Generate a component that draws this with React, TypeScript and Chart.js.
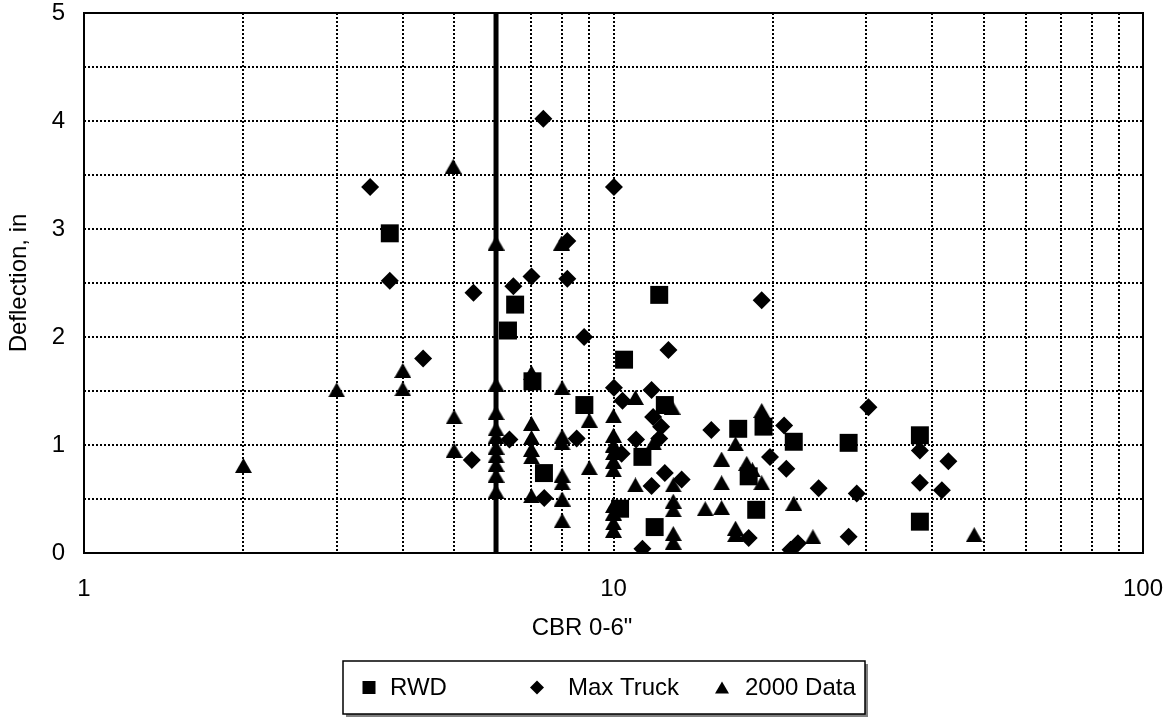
import { useEffect, useRef } from 'react';
import { Chart, registerables } from 'chart.js';

Chart.register(...registerables);

// RWD deflection measurements
const rwdCbr = [3.78, 6.32, 6.52, 12.2, 10.47, 7.03, 8.81, 7.39, 10.29, 11.96, 12.5, 11.34, 17.2, 19.2, 21.9, 27.8, 18.0, 18.6, 37.9, 37.9];
const rwdDeflection = [2.96, 2.06, 2.3, 2.39, 1.79, 1.59, 1.37, 0.74, 0.41, 0.24, 1.37, 0.89, 1.15, 1.17, 1.03, 1.02, 0.71, 0.4, 1.09, 0.29];

// Maximum truck rut deflections
const truckCbr = [3.47, 3.78, 5.44, 4.37, 7.37, 10.02, 8.18, 7.0, 6.47, 8.18, 8.8, 12.7, 19.05, 21.0, 15.3, 19.75, 21.2, 24.4, 28.8, 27.8, 21.6, 22.3, 18.0, 13.45, 12.5, 30.3, 37.9, 42.9, 37.9, 41.7, 10.02, 10.4, 11.8, 11.88, 12.3, 12.2, 11.03, 6.36, 8.52, 10.36, 7.4, 11.8, 11.34, 5.4];
const truckDeflection = [3.39, 2.52, 2.41, 1.8, 4.02, 3.39, 2.89, 2.56, 2.47, 2.54, 2.0, 1.88, 2.34, 1.18, 1.14, 0.89, 0.78, 0.6, 0.55, 0.15, 0.03, 0.09, 0.14, 0.68, 0.74, 1.35, 0.95, 0.85, 0.65, 0.58, 1.53, 1.41, 1.51, 1.26, 1.17, 1.06, 1.05, 1.05, 1.06, 0.92, 0.51, 0.62, 0.04, 0.86];

// 2000 field data
const data2000Cbr = [2.0, 3.0, 4.0, 4.0, 4.98, 5.0, 5.0, 6.0, 6.0, 6.0, 6.0, 6.0, 6.0, 6.0, 6.0, 6.0, 6.0, 7.98, 7.0, 7.0, 7.0, 7.0, 7.0, 7.0, 8.0, 8.0, 8.0, 8.0, 8.0, 8.0, 8.0, 9.0, 9.0, 10.0, 10.0, 10.0, 10.0, 10.0, 10.0, 10.0, 10.0, 10.0, 10.0, 11.0, 11.0, 11.9, 12.9, 12.97, 12.97, 12.97, 12.97, 12.97, 14.9, 16.0, 16.0, 16.0, 17.0, 17.0, 17.0, 17.85, 18.3, 19.05, 19.05, 21.9, 23.8, 48.0];
const data2000Deflection = [0.81, 1.51, 1.52, 1.69, 3.58, 1.26, 0.95, 2.87, 1.56, 1.3, 1.15, 1.08, 0.98, 0.9, 0.82, 0.72, 0.57, 2.87, 1.67, 1.2, 1.07, 0.96, 0.89, 0.53, 1.53, 1.08, 1.02, 0.72, 0.65, 0.5, 0.3, 1.23, 0.79, 1.27, 1.09, 1.0, 0.93, 0.85, 0.77, 0.44, 0.37, 0.28, 0.21, 1.44, 0.63, 1.02, 1.35, 0.63, 0.48, 0.4, 0.18, 0.1, 0.41, 0.42, 0.87, 0.65, 1.01, 0.23, 0.17, 0.83, 0.77, 0.65, 1.32, 0.46, 0.15, 0.17];

// CBR limit line and axis ticks
const cbrLimit = 6;
const deflectionRange = [0, 5];
const xTickValues = [1, 2, 3, 4, 5, 6, 7, 8, 9, 10, 20, 30, 40, 50, 60, 70, 80, 90, 100];
const xLabelValues = [1, 10, 100];
const seriesLabels = ['RWD', 'Max Truck', '2000 Data'];
const xAxisTitle = 'CBR 0-6"';
const yAxisTitle = 'Deflection, in';

const FONT = '"Liberation Sans", Arial, Helvetica, sans-serif';
const FONT_SIZE = 24;
const LEGEND_FONT_SIZE = 24;

function toPoints(xs: number[], ys: number[]) {
  return xs.map((x, i) => ({ x, y: ys[i] }));
}

function makeTriangle(w: number, h: number) {
  const c = document.createElement('canvas');
  c.width = w;
  c.height = h;
  const g = c.getContext('2d')!;
  g.fillStyle = '#000';
  g.beginPath();
  g.moveTo(w / 2, 0);
  g.lineTo(w, h);
  g.lineTo(0, h);
  g.closePath();
  g.fill();
  return c;
}

// Solid frame around the plotting area
const framePlugin = {
  id: 'plotFrame',
  beforeDatasetsDraw(chart: any) {
    const { ctx, chartArea } = chart;
    const { left, top, right, bottom } = chartArea;
    ctx.save();
    ctx.strokeStyle = '#000';
    ctx.lineWidth = 2;
    ctx.setLineDash([]);
    ctx.strokeRect(left, top, right - left, bottom - top);
    ctx.restore();
  },
};

// Horizontal axis title, centred on the whole canvas width
const xTitlePlugin = {
  id: 'xTitle',
  afterDraw(chart: any) {
    const { ctx } = chart;
    const xs = chart.scales.x;
    ctx.save();
    ctx.fillStyle = '#000';
    ctx.font = `${FONT_SIZE}px ${FONT}`;
    ctx.textAlign = 'center';
    ctx.textBaseline = 'middle';
    ctx.fillText(xAxisTitle, chart.width / 2, xs.bottom - 15);
    ctx.restore();
  },
};

// Boxed legend with drop shadow below the axis title
const legendPlugin = {
  id: 'boxLegend',
  afterDraw(chart: any) {
    const { ctx } = chart;
    const box = { left: 343, top: 661, right: 865, bottom: 714 };
    const cy = (box.top + box.bottom) / 2;
    ctx.save();
    ctx.fillStyle = '#808080';
    ctx.fillRect(box.left + 3, box.bottom, box.right - box.left, 3);
    ctx.fillRect(box.right, box.top + 3, 3, box.bottom - box.top);
    ctx.fillStyle = '#fff';
    ctx.fillRect(box.left, box.top, box.right - box.left, box.bottom - box.top);
    ctx.strokeStyle = '#000';
    ctx.lineWidth = 1.5;
    ctx.strokeRect(box.left, box.top, box.right - box.left, box.bottom - box.top);

    const markerX = [369, 537, 722];
    const textX = [390, 568, 745];
    ctx.fillStyle = '#000';
    // square
    ctx.fillRect(markerX[0] - 6.5, cy - 6.5, 13, 13);
    // diamond
    ctx.beginPath();
    ctx.moveTo(markerX[1], cy - 7);
    ctx.lineTo(markerX[1] + 7, cy);
    ctx.lineTo(markerX[1], cy + 7);
    ctx.lineTo(markerX[1] - 7, cy);
    ctx.closePath();
    ctx.fill();
    // triangle
    ctx.beginPath();
    ctx.moveTo(markerX[2], cy - 6);
    ctx.lineTo(markerX[2] + 7, cy + 6);
    ctx.lineTo(markerX[2] - 7, cy + 6);
    ctx.closePath();
    ctx.fill();

    ctx.font = `${LEGEND_FONT_SIZE}px ${FONT}`;
    ctx.textBaseline = 'middle';
    ctx.textAlign = 'left';
    seriesLabels.forEach((label, i) => ctx.fillText(label, textX[i], cy + 1));
    ctx.restore();
  },
};

export default function App() {
  const canvasRef = useRef<HTMLCanvasElement | null>(null);

  useEffect(() => {
    if (!canvasRef.current) return;
    const triangle = makeTriangle(17, 15);
    const gridStyle = { color: '#000', lineWidth: 2, drawTicks: false };
    const borderStyle = { display: false, dash: [2, 2] };

    const chart = new Chart(canvasRef.current, {
      type: 'scatter',
      data: {
        datasets: [
          {
            type: 'line',
            label: 'CBR limit',
            data: [
              { x: cbrLimit, y: deflectionRange[0] },
              { x: cbrLimit, y: deflectionRange[1] },
            ],
            borderColor: '#000',
            borderWidth: 5,
            pointRadius: 0,
            order: 4,
          } as any,
          {
            label: seriesLabels[0],
            data: toPoints(rwdCbr, rwdDeflection),
            pointStyle: 'rect',
            pointRadius: 12.7,
            backgroundColor: '#000',
            borderWidth: 0,
            order: 3,
          },
          {
            label: seriesLabels[1],
            data: toPoints(truckCbr, truckDeflection),
            pointStyle: 'rectRot',
            pointRadius: 9,
            backgroundColor: '#000',
            borderWidth: 0,
            order: 2,
          },
          {
            label: seriesLabels[2],
            data: toPoints(data2000Cbr, data2000Deflection),
            pointStyle: triangle as any,
            pointRadius: 9,
            backgroundColor: '#000',
            borderWidth: 0,
            order: 1,
          },
        ],
      },
      options: {
        animation: false,
        responsive: false,
        devicePixelRatio: 1,
        layout: { padding: { left: 0, right: 21, top: 13, bottom: 76 } },
        plugins: {
          legend: { display: false },
          tooltip: { enabled: false },
        },
        scales: {
          x: {
            type: 'logarithmic',
            min: 1,
            max: 100,
            afterFit: (s: any) => {
              s.height = 90;
              s.paddingLeft = 0;
              s.paddingRight = 0;
            },
            afterBuildTicks: (s: any) => {
              s.ticks = xTickValues.map((v) => ({ value: v }));
            },
            ticks: {
              autoSkip: false,
              maxRotation: 0,
              padding: 22,
              color: '#000',
              font: { family: FONT, size: FONT_SIZE },
              callback: (v: any) => (xLabelValues.includes(Number(v)) ? String(v) : ''),
            },
            grid: gridStyle,
            border: borderStyle,
            title: { display: false },
          } as any,
          y: {
            min: deflectionRange[0],
            max: deflectionRange[1],
            afterFit: (s: any) => {
              s.width = 84;
              s.paddingTop = 0;
              s.paddingBottom = 0;
            },
            ticks: {
              stepSize: 0.5,
              padding: 19,
              color: '#000',
              font: { family: FONT, size: FONT_SIZE, lineHeight: 1 },
              callback: (v: any) => (Number.isInteger(Number(v)) ? String(v) : ''),
            },
            grid: gridStyle,
            border: borderStyle,
            title: {
              display: true,
              text: yAxisTitle,
              color: '#000',
              font: { family: FONT, size: FONT_SIZE },
              padding: { top: 5, bottom: 0 },
            },
          } as any,
        },
      },
      plugins: [framePlugin, xTitlePlugin, legendPlugin],
    });

    return () => chart.destroy();
  }, []);

  return (
    <div style={{ position: 'fixed', left: 0, top: 0, width: 1164, height: 719, background: '#fff' }}>
      <canvas ref={canvasRef} width={1164} height={719} />
    </div>
  );
}
